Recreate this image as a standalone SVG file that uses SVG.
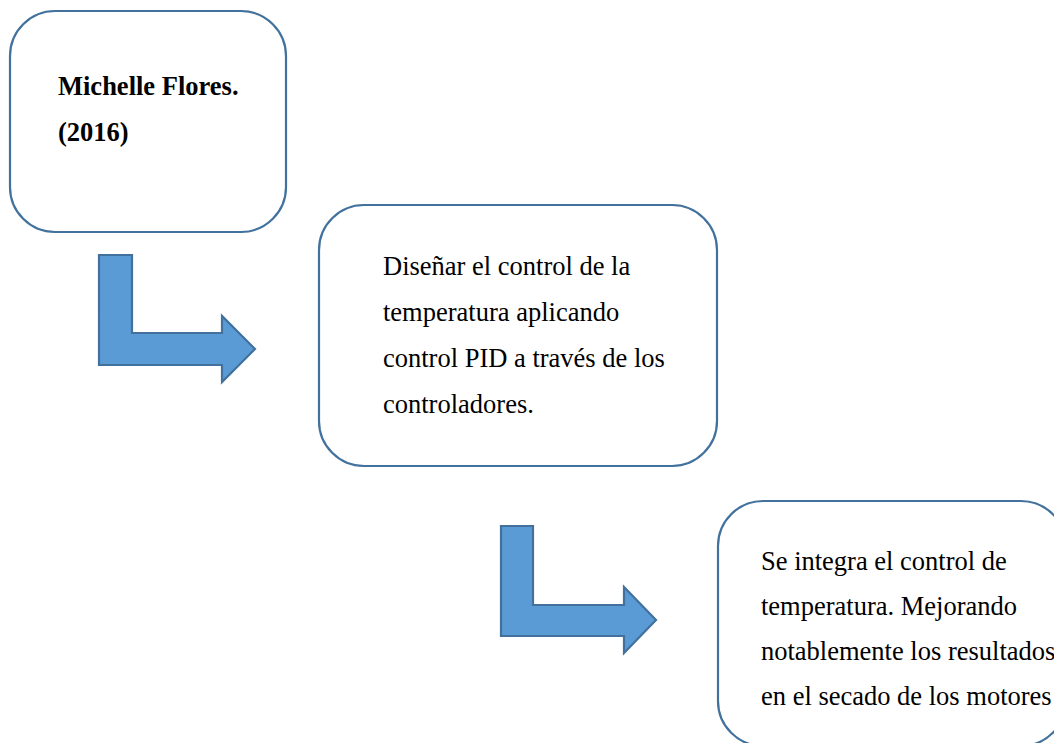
<svg xmlns="http://www.w3.org/2000/svg" width="1054" height="743" viewBox="0 0 1054 743">
<style>
.box{fill:#fff;stroke:#41719C;stroke-width:2.2}
.arr{fill:#5B9BD5;stroke:#41719C;stroke-width:2.2;stroke-linejoin:miter}
.t{font-family:"Liberation Serif","Times New Roman",serif;font-size:26.5px;fill:#000}
.b{font-weight:bold}
</style>
<rect width="1054" height="743" fill="#fff"/>
<g id="node1">
<rect class="box" x="10" y="11" width="276" height="221" rx="45" ry="45"/>
<text class="t b" x="58" y="95">Michelle Flores.</text>
<text class="t b" x="58" y="141">(2016)</text>
</g>
<g id="node2">
<rect class="box" x="319" y="205" width="398" height="261" rx="45" ry="45"/>
<text class="t" x="383" y="275">Diseñar el control de la</text>
<text class="t" x="383" y="321">temperatura aplicando</text>
<text class="t" x="383" y="367">control PID a través de los</text>
<text class="t" x="383" y="413">controladores.</text>
</g>
<g id="node3">
<rect class="box" x="718" y="501" width="348" height="245" rx="45" ry="45"/>
<text class="t" x="761" y="570">Se integra el control de</text>
<text class="t" x="761" y="615">temperatura. Mejorando</text>
<text class="t" x="761" y="660">notablemente los resultados</text>
<text class="t" x="761" y="705">en el secado de los motores</text>
</g>
<g id="connectors">
<path class="arr" d="M99,255 H132 V333 H222 V316 L255,349 L222,382 V365 H99 Z"/>
<path class="arr" d="M501,526 H533 V605 H624 V587 L656,620 L624,653 V636 H501 Z"/>
</g>
</svg>
